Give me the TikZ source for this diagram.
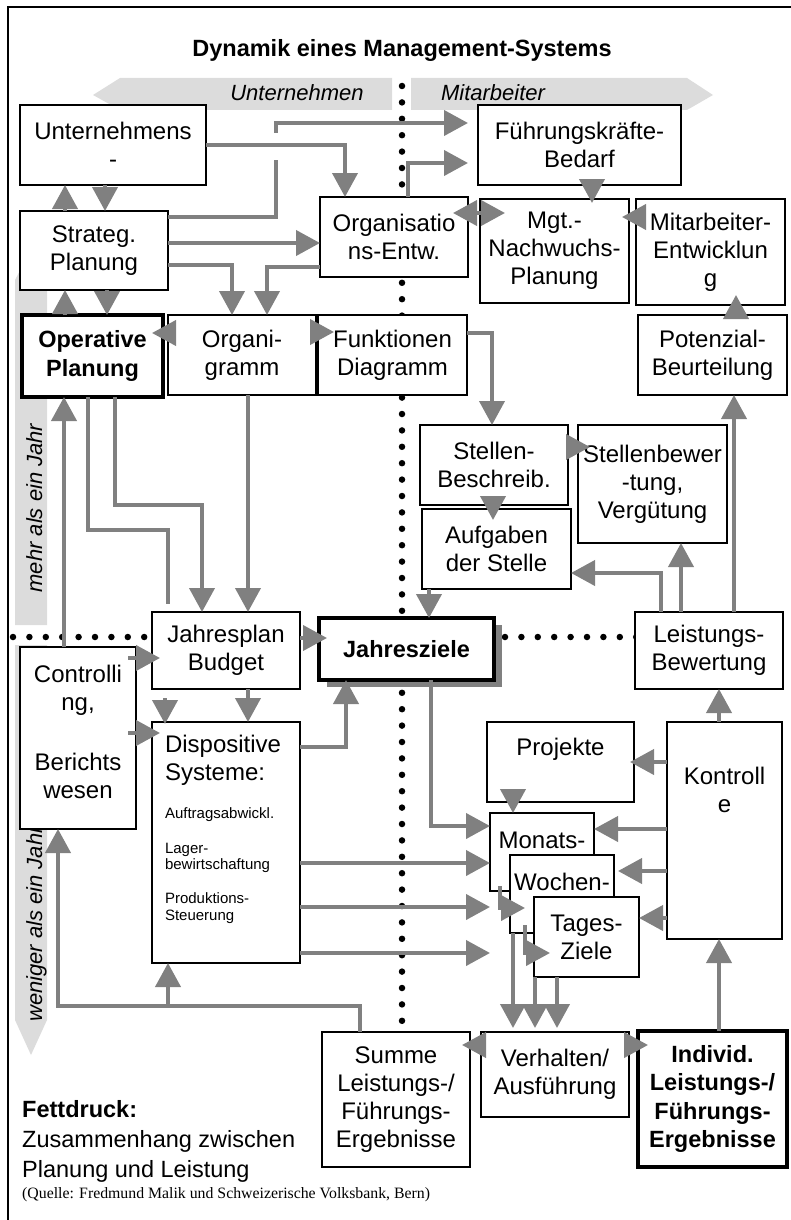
\documentclass[tikz,border=0pt]{standalone}
\usepackage{fontspec}
\setmainfont{Liberation Sans}
\newfontfamily\qfont{Liberation Serif}
\usetikzlibrary{arrows.meta,shadows}
\definecolor{gline}{HTML}{808080}
\definecolor{gband}{HTML}{DCDCDC}
\newcommand\bx[7][]{\node[box,#1,minimum width={(#5)-(#3)},minimum height={(#6)-(#4)}] (#2) at ({((#3)+(#5))/2},{((#4)+(#6))/2}) {#7};}
\newcommand\tp[4]{\parbox[c][#1pt][t]{#2pt}{\centering\vspace*{#3pt}#4}}
\begin{document}
\begin{tikzpicture}[x=1pt,y=-1pt,
  box/.style={draw, fill=white, line width=1.6pt, inner sep=0pt, outer sep=0pt, align=center, font=\fontsize{24}{28}\selectfont},
  boldbox/.style={line width=3.6pt, font=\fontsize{23.5}{28.5}\selectfont\bfseries},
  con/.style={draw=gline, line width=4pt},
  arr/.style={con, -{Triangle[width=25pt,length=24pt]}},
  dbl/.style={con, {Triangle[width=25pt,length=24pt]}-{Triangle[width=25pt,length=24pt]}},
  dots/.style={line width=6.5pt, line cap=round, dash pattern=on 0pt off 16.4pt},
  band/.style={fill=gband},
  bandtext/.style={font=\itshape\fontsize{22}{26}\selectfont, inner sep=0pt},
]
\useasboundingbox (0,0) rectangle (791,1220);
% frame
\draw[line width=1.5pt] (8,1222) -- (8,7) -- (793,7);
% gray bands
\fill[band] (93,95) -- (120,78) -- (392,78) -- (392,110) -- (120,110) -- cycle;
\fill[band] (411,78) -- (687,78) -- (713,95) -- (687,110) -- (411,110) -- cycle;
\fill[band] (15,625) -- (15,280) -- (31,250) -- (47,280) -- (47,625) -- cycle;
\fill[band] (15,645) -- (47,645) -- (47,1020) -- (31,1055) -- (15,1020) -- cycle;
\node[bandtext, anchor=base] (bu) at (297,101) {Unternehmen};
\node[bandtext, anchor=base] (bm) at (493,101) {Mitarbeiter};
\node[bandtext, anchor=base, rotate=90] (bj1) at (42,508) {mehr als ein Jahr};
\node[bandtext, anchor=base, rotate=90] (bj2) at (42,924) {weniger als ein Jahr};
% dotted lines
\draw[dots] (402,86) -- (402,1030);
\draw[dots] (13,637) -- (640,637);
% title
\node[anchor=base, inner sep=0pt, font=\bfseries\fontsize{23.5}{28}\selectfont] (title) at (402,57) {Dynamik eines Management-Systems};
% boxes
\bx{unt}{20}{105}{206}{185}{Unternehmens\\-}
\bx{strat}{20}{211}{168}{290}{Strateg.\\Planung}
\bx{orgent}{320}{197}{468}{277}{Organisatio\\ns-Entw.}
\bx{fuehr}{478}{105}{681}{185}{Führungskräfte-\\Bedarf}
\bx{mgt}{480}{199}{629}{303}{Mgt.-\\Nachwuchs-\\Planung}
\bx{mitent}{636}{199}{785}{305}{Mitarbeiter-\\Entwicklun\\g}
\bx[boldbox]{oper}{22}{315}{163}{397}{Operative\\Planung}
\bx{organi}{168}{315}{316}{395}{Organi-\\gramm}
\bx{funk}{318}{315}{467}{395}{Funktionen\\Diagramm}
\bx{pot}{638}{315}{787}{395}{Potenzial-\\Beurteilung}
\bx{stb}{420}{425}{568}{505}{Stellen-\\Beschreib.}
\bx{stbew}{578}{425}{727}{543}{Stellenbewer\\-tung,\\Vergütung}
\bx{aufg}{422}{509}{571}{589}{Aufgaben\\der Stelle}
\bx{jplan}{152}{612}{300}{689}{Jahresplan\\Budget}
\bx[boldbox, general shadow={fill=gline, shadow xshift=8pt, shadow yshift=-7pt}]{jziel}{319}{618}{494}{680}{Jahresziele}
\bx{leist}{635}{612}{783}{689}{Leistungs-\\Bewertung}
\bx{contr}{20}{647}{136}{829}{\tp{182}{112}{18}{Controlli\\ng,\\[32pt]Berichts\\wesen}}
\bx{disp}{152}{722}{300}{963}{\parbox[c][241pt][t]{146pt}{\raggedright\leftskip=12pt\relax\vspace*{13pt}Dispositive\\Systeme:\par{\fontsize{15}{16.5}\selectfont\vspace{21.5pt}Auftragsabwickl.\par\vspace{18.5pt}Lager-\\bewirtschaftung\par\vspace{17.5pt}Produktions-\\Steuerung\par}}}
\bx{proj}{487}{722}{634}{802}{\tp{80}{140}{16}{Projekte}}
\bx{kontr}{667}{722}{782}{939}{\tp{217}{110}{45}{Kontroll\\e}}
\bx{monat}{490}{813}{594}{891}{\tp{78}{100}{19}{Monats-}}
\bx{woch}{510}{855}{614}{933}{\tp{78}{100}{18}{Wochen-}}
\bx{tages}{534}{897}{639}{977}{Tages-\\Ziele}
\bx{summe}{322}{1032}{470}{1167}{Summe\\Leistungs-/\\Führungs-\\Ergebnisse}
\bx{verh}{481}{1032}{629}{1117}{Verhalten/\\Ausführung}
\bx[boldbox]{indiv}{638}{1031}{787}{1167}{Individ.\\Leistungs-/\\Führungs-\\Ergebnisse}
% named coordinates
\coordinate (jlo) at (276,160);
\coordinate (jhi) at (276,133);
\coordinate (opend) at (168,604);
\coordinate (opbend) at (115,505);
\coordinate (wochin) at (525,908);
\coordinate (tagin) at (550,953);
\coordinate (fbk) at (168,1006);
% connectors
\draw[arr] (strat.north -| 65,0) -- (unt.south -| 65,0);
\draw[arr] (unt.south -| 105,0) -- (strat.north -| 105,0);
\draw[arr] (oper.north -| 65,0) -- (strat.south -| 65,0);
\draw[arr] (strat.south -| 107,0) -- (oper.north -| 107,0);
\draw[con] (strat.east |- 0,217) -| (jlo);
\draw[arr, shorten >=10pt] (jhi) |- (fuehr.west |- 0,123);
\draw[arr] (unt.east |- 0,145) -| (orgent.north -| 345,0);
\draw[arr, shorten >=10pt] (orgent.north -| 408,0) |- (fuehr.west |- 0,163);
\draw[arr] (strat.east |- 0,243) -- (orgent.west |- 0,243);
\draw[arr] (strat.east |- 0,265) -| (organi.north -| 232,0);
\draw[arr] (orgent.west |- 0,267) -| (organi.north -| 267,0);
\draw[dbl, shorten <=-15pt, shorten >=-25pt] (orgent.east |- 0,213) -- (mgt.west |- 0,213);
\draw[arr, shorten >=-4pt] (fuehr.south -| 592,0) -- (mgt.north -| 592,0);
\draw[arr, shorten >=-7pt] (mitent.west |- 0,217) -- (mgt.east |- 0,217);
\draw[arr, shorten >=-10pt] (pot.north -| 736,0) -- (mitent.south -| 736,0);
\draw[arr, shorten >=-11pt] (organi.west |- 0,333) -- (oper.east |- 0,333);
\draw[arr, shorten >=-16pt] (organi.east |- 0,332) -- (funk.west |- 0,332);
\draw[arr] (funk.east |- 0,333) -| (stb.north -| 492,0);
\draw[con] (oper.south -| 88,0) |- (opend |- 0,530) -- (opend);
\draw[arr] (oper.south -| opbend) -- (opbend) -| (jplan.north -| 202,0);
\draw[arr] (organi.south -| 248,0) -- (jplan.north -| 248,0);
\draw[arr] (contr.north -| 64,0) -- (oper.south -| 64,0);
\draw[arr, shorten <=-8pt, shorten >=-8pt] (contr.east |- 0,658) -- (jplan.west |- 0,658);
\draw[arr, shorten <=-8pt, shorten >=-8pt] (contr.east |- 0,733) -- (disp.west |- 0,733);
\draw[arr, shorten <=9pt, shorten >=-2pt] (jplan.south -| 165,0) -- (disp.north -| 165,0);
\draw[arr] (jplan.south -| 248,0) -- (disp.north -| 248,0);
\draw[arr, shorten >=-8pt] (jplan.east |- 0,638) -- (jziel.west |- 0,638);
\draw[arr] (disp.east |- 0,747) -| (jziel.south -| 346,0);
\draw[arr] (jziel.south -| 431,0) |- (monat.west |- 0,826);
\draw[arr] (disp.east |- 0,863) -- (monat.west |- 0,863);
\draw[arr] (disp.east |- 0,907) -- (monat.west |- 0,907);
\draw[arr] (disp.east |- 0,953) -- (monat.west |- 0,953);
\draw[arr] (proj.south -| 513,0) -- (monat.north -| 513,0);
\draw[arr, shorten >=-4pt] (kontr.west |- 0,762) -- (proj.east |- 0,762);
\draw[arr] (kontr.west |- 0,829) -- (monat.east |- 0,829);
\draw[arr, shorten >=4pt] (kontr.west |- 0,871) -- (woch.east |- 0,871);
\draw[arr] (kontr.west |- 0,918) -- (tages.east |- 0,918);
\draw[arr] (kontr.north -| 719,0) -- (leist.south -| 719,0);
\draw[arr] (leist.north -| 661,0) |- (aufg.east |- 0,573);
\draw[arr] (leist.north -| 681,0) -- (stbew.south -| 681,0);
\draw[arr] (leist.north -| 734,0) -- (pot.south -| 734,0);
\draw[arr, shorten >=-12pt] (stb.east |- 0,447) -- (stbew.west |- 0,447);
\draw[arr, shorten >=-11pt] (stb.south -| 493,0) -- (aufg.north -| 493,0);
\draw[arr] (aufg.south -| 429,0) -- (jziel.north -| 429,0);
\draw[arr, shorten <=-5pt] (monat.south -| 500,0) |- (wochin);
\draw[arr, shorten <=-8pt] (woch.south -| 525,0) |- (tagin);
\draw[arr, shorten >=4pt] (woch.south -| 513,0) -- (verh.north -| 513,0);
\draw[arr, shorten >=4pt] (tages.south -| 535,0) -- (verh.north -| 535,0);
\draw[arr, shorten >=4pt] (tages.south -| 557,0) -- (verh.north -| 557,0);
\draw[arr, shorten <=-12pt, shorten >=-8pt] (verh.west |- 0,1045) -- (summe.east |- 0,1045);
\draw[arr, shorten <=-14pt, shorten >=-10pt] (verh.east |- 0,1045) -- (indiv.west |- 0,1045);
\draw[arr] (indiv.north -| 719,0) -- (kontr.south -| 719,0);
\draw[arr] (summe.north -| 360,0) |- (fbk) -| (contr.south -| 58,0);
\draw[arr] (fbk) -- (disp.south -| fbk);
% legend
\node[anchor=north west, align=left, inner sep=0pt, font=\fontsize{23.5}{30}\selectfont] (legend) at (22,1100) {\textbf{Fettdruck:}\\Zusammenhang zwischen\\Planung und Leistung};
\node[anchor=base west, inner sep=0pt, font=\qfont\fontsize{15.8}{18}\selectfont] (quelle) at (22,1198) {(Quelle: Fredmund Malik und Schweizerische Volksbank, Bern)};
\end{tikzpicture}
\end{document}
